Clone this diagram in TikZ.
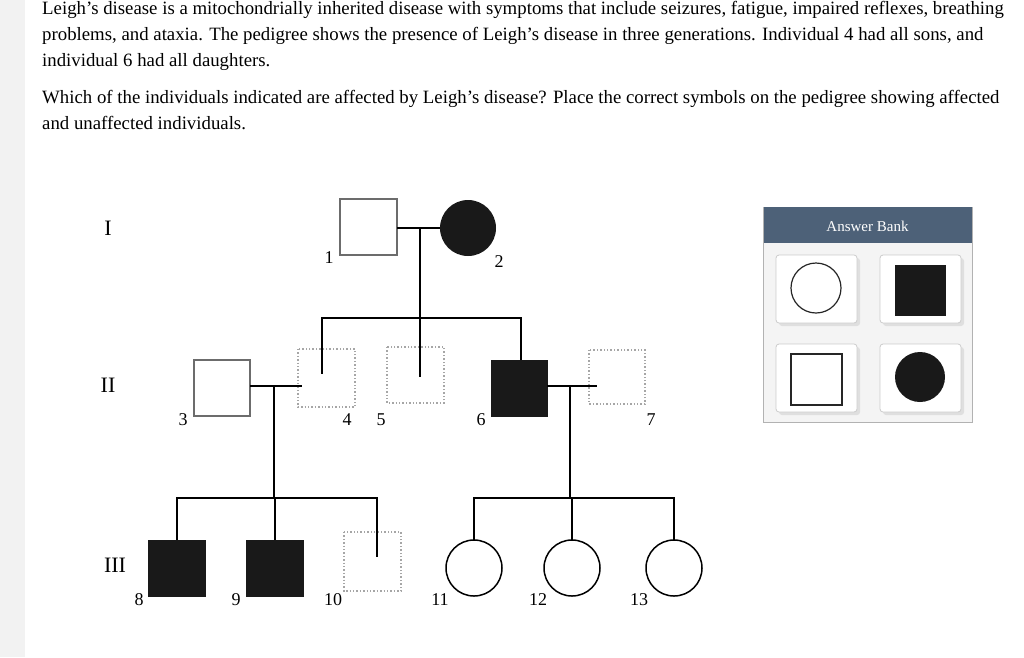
\documentclass[tikz,border=0pt]{standalone}
\usepackage{fontspec}
\setmainfont{Liberation Serif}
\definecolor{hdr}{HTML}{4D6178}
\definecolor{bankbg}{HTML}{F4F4F4}
\definecolor{strip}{HTML}{F2F2F2}
\begin{document}
\begin{tikzpicture}[x=1pt,y=-1pt,
  txt/.style={anchor=base west,inner sep=0pt,font=\fontsize{18.8}{20}\selectfont},
  lab/.style={inner sep=0pt,font=\fontsize{18}{20}\selectfont},
  gen/.style={inner sep=0pt,font=\fontsize{22}{24}\selectfont},
  sq/.style={draw=gray!85!black,line width=1.5pt,fill=white},
  asq/.style={fill=black!90,draw=black!90},
  dsq/.style={draw=gray!70,dotted,line width=1.4pt},
  ln/.style={line width=2.6pt},
  tile/.style={draw=gray!40,rounded corners=3pt,fill=white,line width=0.8pt}]
\useasboundingbox (0,0) rectangle (1024,657);
\fill[white] (0,0) rectangle (1024,657);
\fill[strip] (0,0) rectangle (25,657);
\node[txt] (t1) at (42,14) {Leigh's disease is a mitochondrially inherited disease with symptoms that include seizures, fatigue, impaired reflexes, breathing};
\node[txt] (t2) at (42,40) {problems, and ataxia. The pedigree shows the presence of Leigh's disease in three generations. Individual 4 had all sons, and};
\node[txt] (t3) at (42,66) {individual 6 had all daughters.};
\node[txt] (t4) at (42,103) {Which of the individuals indicated are affected by Leigh's disease? Place the correct symbols on the pedigree showing affected};
\node[txt] (t5) at (42,129) {and unaffected individuals.};
% generation labels
\node[gen] (gI) at (108,228) {I};
\node[gen] (gII) at (108,385) {II};
\node[gen] (gIII) at (115,565) {III};
% generation I
\draw[sq] (340,199) rectangle (397,255);
\coordinate (p1) at (397,228);
\fill[black!90] (468,228) circle (28);
\coordinate (p2) at (440,228);
\draw[ln] (p1) -- (p2);
\coordinate (m1) at (420,228);
\coordinate (b1) at (420,318);
\draw[ln] (m1) -- (b1);
\coordinate (b1l) at (322,318);
\coordinate (b1r) at (521,318);
\draw[ln,line cap=rect] (b1l) -- (b1r);
% generation II
\draw[sq] (194,360) rectangle (250,416);
\draw[dsq] (298,349) rectangle (355,407);
\draw[dsq] (387,347) rectangle (444,403);
\draw[asq] (491,360) rectangle (547,416);
\draw[dsq] (589,350) rectangle (645,404);
\coordinate (c4) at (322,374);
\coordinate (c5t) at (420,318);
\coordinate (c5) at (420,377);
\coordinate (c6) at (521,360);
\draw[ln] (b1l) -- (c4);
\draw[ln] (c5t) -- (c5);
\draw[ln] (b1r) -- (c6);
\coordinate (m34a) at (250,386);
\coordinate (m34b) at (302,386);
\draw[ln] (m34a) -- (m34b);
\coordinate (m67a) at (547,386);
\coordinate (m67b) at (597,386);
\draw[ln] (m67a) -- (m67b);
\coordinate (d34) at (274,386);
\coordinate (b2) at (274,498);
\coordinate (d67) at (570,386);
\coordinate (b3) at (570,498);
\draw[ln] (d34) -- (b2);
\draw[ln] (d67) -- (b3);
\coordinate (b2l) at (177,498);
\coordinate (b2r) at (377,498);
\coordinate (b3l) at (474,498);
\coordinate (b3r) at (674,498);
\draw[ln,line cap=rect] (b2l) -- (b2r);
\draw[ln,line cap=rect] (b3l) -- (b3r);
% generation III
\draw[asq] (148,540) rectangle (205,596);
\draw[asq] (246,540) rectangle (303,596);
\draw[dsq] (344,532) rectangle (401,591);
\coordinate (c8) at (177,540);
\coordinate (c9) at (275,540);
\coordinate (c10) at (377,557);
\draw[ln] (b2l) -- (c8);
\draw[ln] (275,498) -- (c9);
\draw[ln] (b2r) -- (c10);
\foreach \x in {474,572,674}{\draw[ln] (\x,498) -- (\x,540);
  \draw[line width=1.5pt,fill=white] (\x,568) circle (28);}
% labels
\node[lab] (l1) at (329,258) {1};
\node[lab] (l2) at (499,262) {2};
\node[lab] (l3) at (183,420) {3};
\node[lab] (l4) at (347,420) {4};
\node[lab] (l5) at (381,420) {5};
\node[lab] (l6) at (481,420) {6};
\node[lab] (l7) at (651,420) {7};
\node[lab] (l8) at (139,600) {8};
\node[lab] (l9) at (236,600) {9};
\node[lab] (l10) at (333,600) {10};
\node[lab] (l11) at (440,600) {11};
\node[lab] (l12) at (538,600) {12};
\node[lab] (l13) at (639,600) {13};
% answer bank
\draw[draw=gray!60,fill=bankbg] (763.5,207) rectangle (972,422);
\fill[hdr] (763.5,207) rectangle (972,243);
\node[inner sep=0pt,text=white,font=\fontsize{15}{17}\selectfont] (ab) at (867.5,226) {Answer Bank};
\foreach \x/\y in {776/255,880/255,776/344,880/344}{
  \fill[gray!25,rounded corners=3pt] (\x+3,\y+3) rectangle (\x+84,\y+71);
  \draw[tile] (\x,\y) rectangle (\x+81,\y+68);}
\draw[line width=1.2pt,draw=gray!30!black] (816,288) circle (25);
\fill[black!90] (895,265) rectangle (946,316);
\draw[line width=1.6pt,draw=gray!30!black] (791,354) rectangle (842,405);
\fill[black!90] (920,377) circle (25);
\end{tikzpicture}
\end{document}
